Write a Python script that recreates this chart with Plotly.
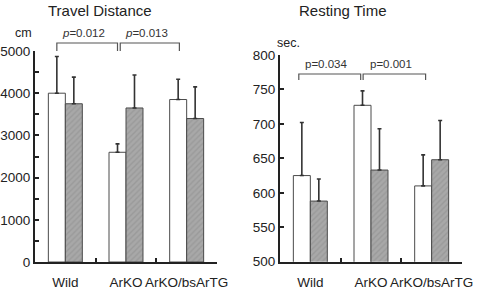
import plotly.graph_objects as go

categories = ["Wild", "ArKO", "ArKO/bsArTG"]

# Travel distance (cm)
td_white = [4000, 2600, 3850]
td_white_err = [870, 200, 480]
td_grey = [3750, 3650, 3400]
td_grey_err = [630, 780, 750]

# Resting time (sec.)
rt_white = [625, 727, 610]
rt_white_err = [77, 21, 45]
rt_grey = [588, 633, 648]
rt_grey_err = [32, 60, 57]

td_ticks = [0, 1000, 2000, 3000, 4000, 5000]
rt_ticks = [500, 550, 600, 650, 700, 750, 800]

td_pvals = ["<i>p</i>=0.012", "<i>p</i>=0.013"]
rt_pvals = ["p=0.034", "p=0.001"]

FONT = "Liberation Sans, Arial, sans-serif"
W, H = 490, 290
AX = "#222222"

fig = go.Figure()

def add_bars(white, werr, grey, gerr, xa, ya):
    fig.add_trace(go.Bar(
        x=categories, y=white, xaxis=xa, yaxis=ya, offsetgroup="a",
        marker=dict(color="#ffffff", line=dict(color="#4a4a4a", width=1)),
        error_y=dict(type="data", symmetric=False, array=werr,
                     arrayminus=[0] * len(werr), color="#333333",
                     thickness=1.6, width=2),
        showlegend=False))
    fig.add_trace(go.Bar(
        x=categories, y=grey, xaxis=xa, yaxis=ya, offsetgroup="b",
        marker=dict(color="#a8a8a8", line=dict(color="#4a4a4a", width=1),
                    pattern=dict(shape="/", bgcolor="#a8a8a8", fgcolor="#8c8c8c",
                                 size=4, solidity=0.35)),
        error_y=dict(type="data", symmetric=False, array=gerr,
                     arrayminus=[0] * len(gerr), color="#333333",
                     thickness=1.6, width=2),
        showlegend=False))

add_bars(td_white, td_white_err, td_grey, td_grey_err, "x", "y")
add_bars(rt_white, rt_white_err, rt_grey, rt_grey_err, "x2", "y2")

def px_x(p):
    return p / W
def px_y(p):
    return 1 - p / H

xd1 = [px_x(35), px_x(217)]
yd1 = [px_y(262), px_y(51)]
xd2 = [px_x(280), px_x(462)]
yd2 = [px_y(261.7), px_y(55)]

axis_common = dict(showline=True, linecolor=AX, linewidth=2, showgrid=False,
                   zeroline=False, mirror=False, automargin=False)

xcommon = dict(range=[-0.5, 2.5], ticks="inside", tickson="boundaries", ticklen=4,
               tickwidth=1.5, tickcolor=AX, ticklabelstandoff=7, tickangle=0,
               tickfont=dict(size=13.5), **axis_common)
ycommon = dict(ticks="inside", ticklen=4, tickwidth=1.5, tickcolor=AX,
               tickfont=dict(size=13.5), ticklabelstandoff=0, **axis_common)

fig.update_layout(
    width=W, height=H, margin=dict(l=0, r=0, t=0, b=0, autoexpand=False),
    paper_bgcolor="white", plot_bgcolor="white",
    barmode="group", bargap=0.44, bargroupgap=0,
    font=dict(family=FONT, color="#222222", size=13),
    xaxis=dict(domain=xd1, anchor="y", **xcommon),
    yaxis=dict(domain=yd1, anchor="x", range=[0, 5000], tickvals=td_ticks,
               minor=dict(dtick=500, tick0=0, ticks="inside", ticklen=4, tickcolor=AX),
               **ycommon),
    xaxis2=dict(domain=xd2, anchor="y2", **xcommon),
    yaxis2=dict(domain=yd2, anchor="x2", range=[500, 800], tickvals=rt_ticks, **ycommon),
)

def label(text, x, y, size):
    fig.add_annotation(text=text, x=px_x(x), y=px_y(y), xref="paper", yref="paper",
                       xanchor="center", yanchor="middle", showarrow=False,
                       font=dict(size=size))

label("Travel Distance", 100, 11, 15)
label("Resting Time", 343, 11, 15)
label("cm", 23, 33, 12.5)
label("sec.", 288, 43, 12.5)

def catfrac(c):
    return (c + 0.5) / 3.0

def bracket(xref, yref, c0, c1, ytop, ybot, text, ylab):
    x0, x1 = catfrac(c0), catfrac(c1)
    fig.add_shape(type="path", xref=xref + " domain", yref=yref + " domain",
                  path=f"M {x0},{ybot} L {x0},{ytop} L {x1},{ytop} L {x1},{ybot}",
                  line=dict(color="#555555", width=1.2))
    fig.add_annotation(text=text, x=(x0 + x1) / 2 - 0.02, y=ylab, xref=xref + " domain",
                       yref=yref + " domain", xanchor="center", yanchor="middle",
                       showarrow=False, font=dict(size=11.5, color="#333333"))

bracket("x", "y", 0 - 0.14, 1 - 0.14, 1.038, 1.0, td_pvals[0], 1.085)
bracket("x", "y", 1 - 0.095, 2 - 0.12, 1.038, 1.0, td_pvals[1], 1.085)
bracket("x2", "y2", 0 - 0.19, 1 - 0.17, 0.908, 0.879, rt_pvals[0], 0.955)
bracket("x2", "y2", 1 - 0.13, 2 - 0.1, 0.908, 0.879, rt_pvals[1], 0.955)

fig.write_html("out.html", config={"displayModeBar": False},
               post_script="document.body.style.margin='0';document.body.style.overflow='hidden';")
